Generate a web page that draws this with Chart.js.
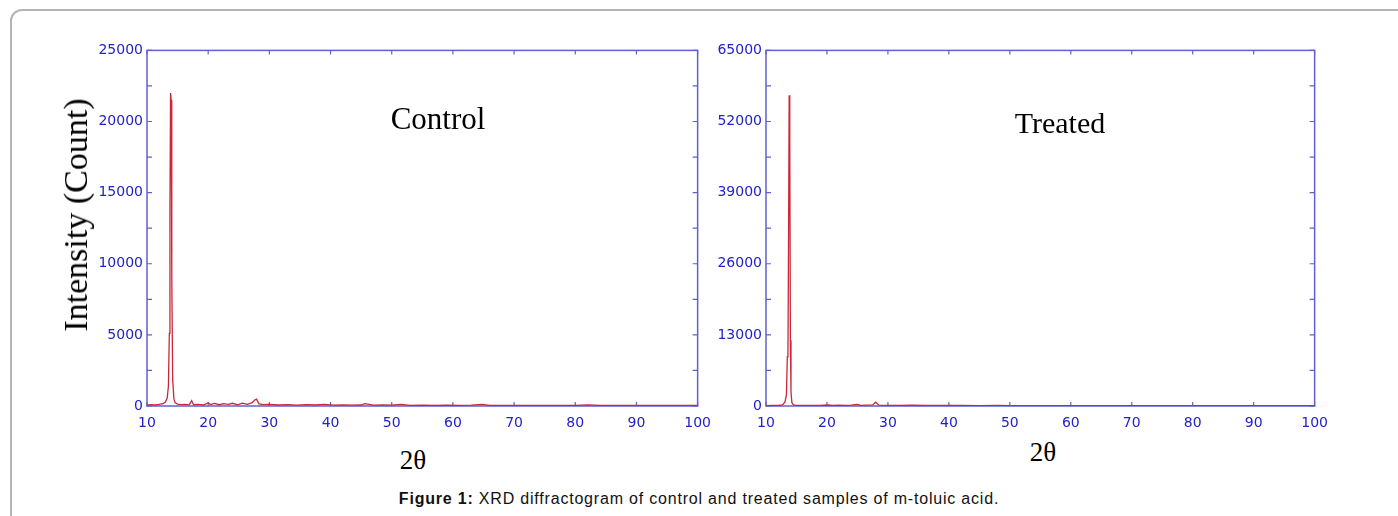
<!DOCTYPE html>
<html lang="en">
<head>
  <meta charset="UTF-8">
  <title>XRD diffractogram</title>
  <script src="https://cdn.jsdelivr.net/npm/chart.js"></script>
  <style>
    body {
      margin: 0;
      background: #ffffff;
      width: 1398px;
      height: 516px;
      overflow: hidden;
      position: relative;
      font-family: "Liberation Serif", serif;
    }
    #frame {
      position: absolute;
      left: 10px;
      top: 9px;
      width: 1420px;
      height: 540px;
      border: 2px solid #b4b4b4;
      border-radius: 12px;
    }
    canvas { position: absolute; }
    .note {
      position: absolute;
      color: #000;
      font-family: "Liberation Serif", serif;
      white-space: nowrap;
      transform: translate(-50%, -50%);
    }
    #ytitle {
      position: absolute;
      left: 76px;
      top: 215px;
      font-family: "Liberation Serif", serif;
      font-size: 34px;
      white-space: nowrap;
      transform: translate(-50%, -50%) rotate(-90deg);
    }
    #caption {
      position: absolute;
      left: 0;
      width: 1398px;
      top: 490px;
      text-align: center;
      font-family: "Liberation Sans", Arial, sans-serif;
      font-size: 16px;
      letter-spacing: 0.8px;
      color: #111;
    }
  </style>
</head>
<body>
  <div id="frame"></div>

  <canvas id="ctrlChart" width="633" height="398" style="left:87px; top:38px;"></canvas>
  <canvas id="treatChart" width="631" height="398" style="left:706px; top:38px;"></canvas>

  <div id="ytitle">Intensity (Count)</div>
  <div class="note" style="left:438px; top:119px; font-size:31px;">Control</div>
  <div class="note" style="left:1060px; top:123px; font-size:30px;">Treated</div>
  <div class="note" style="left:413px; top:460px; font-size:27px;">2θ</div>
  <div class="note" style="left:1043px; top:452px; font-size:27px;">2θ</div>

  <div id="caption"><b>Figure 1:</b> XRD diffractogram of control and treated samples of m-toluic acid.</div>

  <script>
    // control sample (2theta, counts)
    const ctrlTheta = [10, 10.6, 11.3, 12, 12.6, 13, 13.3, 13.5, 13.65, 13.75, 13.85, 13.95, 14.05, 14.2, 14.4, 14.6, 15, 15.6, 16.2, 16.9, 17.3, 17.6, 18.3, 19.2, 20, 20.4, 21, 21.8, 22.5, 23.3, 24, 24.8, 25.6, 26.4, 27.2, 27.6, 27.9, 28.3, 29, 30, 31.5, 33, 34.5, 36, 37.5, 39, 40.5, 42, 43.5, 45, 45.6, 47, 48.5, 50, 51.5, 53, 55, 57, 59, 61, 63, 64.8, 66, 68, 70, 72, 74, 76, 78, 80, 82, 84, 86, 88, 90, 92, 94, 96, 98, 100];
    const ctrlCount = [60, 90, 70, 110, 160, 280, 560, 1400, 5100, 14000, 22000, 21500, 9000, 1800, 500, 220, 130, 90, 110, 80, 380, 90, 120, 70, 210, 100, 180, 90, 170, 110, 190, 80, 200, 110, 230, 420, 480, 150, 90, 110, 70, 100, 60, 90, 70, 110, 60, 80, 60, 70, 160, 60, 80, 60, 110, 50, 60, 50, 60, 50, 60, 110, 50, 40, 50, 40, 50, 40, 50, 40, 80, 40, 50, 40, 50, 40, 50, 40, 50, 40];

    // treated sample (2theta, counts)
    const treatTheta = [10, 11, 12, 12.7, 13.1, 13.35, 13.5, 13.6, 13.7, 13.8, 13.9, 14.0, 14.1, 14.25, 14.5, 15, 16, 17, 18, 19, 20, 21, 22, 23, 24, 25, 25.5, 26.5, 27.5, 28, 28.5, 30, 32, 34, 36, 38, 40, 42, 45, 48, 50, 55, 60, 65, 70, 75, 80, 85, 90, 95, 100];
    const treatCount = [80, 100, 90, 200, 700, 2000, 9000, 9500, 30000, 56800, 48600, 12000, 2500, 600, 200, 120, 100, 120, 100, 110, 180, 120, 160, 110, 150, 280, 120, 150, 200, 700, 160, 120, 100, 140, 100, 110, 120, 90, 80, 100, 80, 70, 70, 80, 60, 70, 60, 60, 60, 60, 60];

    const xTicks = [10, 20, 30, 40, 50, 60, 70, 80, 90, 100];
    const ctrlMax = 25000, ctrlStep = 5000;
    const treatMax = 65000, treatStep = 13000;

    const frameColor = '#6060d0';
    const tickColor = '#2222c8';
    const lineColor = '#c8283a';

    // frame and inward tick marks, drawn under the trace
    const framePlugin = {
      id: 'xrdFrame',
      beforeDatasetsDraw(chart) {
        const { ctx, chartArea: a, scales } = chart;
        ctx.save();
        ctx.strokeStyle = frameColor;
        ctx.lineWidth = 1.5;
        ctx.strokeRect(a.left, a.top, a.right - a.left, a.bottom - a.top);
        ctx.lineWidth = 1.2;
        ctx.beginPath();
        scales.x.ticks.forEach(t => {
          const px = scales.x.getPixelForValue(t.value);
          ctx.moveTo(px, a.top); ctx.lineTo(px, a.top + 4);
          ctx.moveTo(px, a.bottom); ctx.lineTo(px, a.bottom - 4);
        });
        const yt = scales.y.ticks.map(t => t.value);
        const marks = [];
        for (let i = 0; i < yt.length; i++) {
          marks.push(yt[i]);
          if (i + 1 < yt.length) marks.push((yt[i] + yt[i + 1]) / 2);
        }
        marks.forEach(v => {
          const py = scales.y.getPixelForValue(v);
          ctx.moveTo(a.left, py); ctx.lineTo(a.left + 5, py);
          ctx.moveTo(a.right, py); ctx.lineTo(a.right - 5, py);
        });
        ctx.stroke();
        ctx.restore();
      }
    };

    function makeChart(id, xs, ys, yMax, yStep) {
      const pts = xs.map((x, i) => ({ x: x, y: ys[i] }));
      return new Chart(document.getElementById(id), {
        type: 'scatter',
        data: {
          datasets: [{
            data: pts,
            showLine: true,
            borderColor: lineColor,
            borderWidth: 1.3,
            pointRadius: 0,
            tension: 0
          }]
        },
        options: {
          responsive: false,
          animation: false,
          layout: { padding: { top: 10, right: 8, left: 0, bottom: 0 } },
          plugins: { legend: { display: false }, tooltip: { enabled: false } },
          scales: {
            x: {
              type: 'linear',
              min: 10,
              max: 100,
              afterBuildTicks: s => { s.ticks = xTicks.map(v => ({ value: v })); },
              afterFit: s => { s.height = 30; },
              grid: { display: false, drawTicks: false },
              border: { display: false },
              ticks: {
                color: tickColor,
                padding: 9,
                maxRotation: 0,
                font: { family: 'DejaVu Sans', size: 14 }
              }
            },
            y: {
              min: 0,
              max: yMax,
              afterFit: s => { s.width = 60; },
              grid: { display: false, drawTicks: false },
              border: { display: false },
              ticks: {
                stepSize: yStep,
                color: tickColor,
                padding: 4,
                callback: v => String(v),
                font: { family: 'DejaVu Sans', size: 14 }
              }
            }
          }
        },
        plugins: [framePlugin]
      });
    }

    makeChart('ctrlChart', ctrlTheta, ctrlCount, ctrlMax, ctrlStep);
    makeChart('treatChart', treatTheta, treatCount, treatMax, treatStep);
  </script>
</body>
</html>
